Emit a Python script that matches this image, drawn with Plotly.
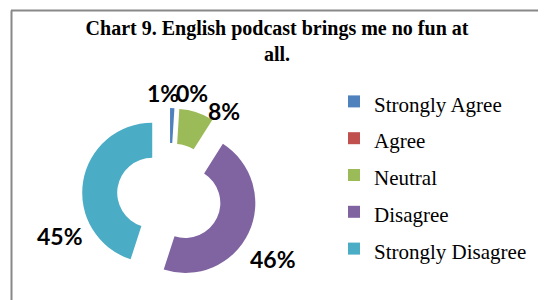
import plotly.graph_objects as go

categories = ["Strongly Agree", "Agree", "Neutral", "Disagree", "Strongly Disagree"]
percentages = [1, 0, 8, 46, 45]
colors = ["#4F81BD", "#C0504D", "#9BBB59", "#8064A2", "#4BACC6"]
title_text = "Chart 9. English podcast brings me no fun at<br>all."

W, H = 546, 300
OX, OY = 8, 8  # page body margin offset


def px(x):
    return (x - OX) / W


def py(y):
    return 1 - (y - OY) / H


# label anchor positions in page pixels (layout only)
label_pos = [(163, 94), (192, 94), (224, 112), (273, 260), (60, 236.5)]

legend_labels = [f'<span style="font-size:21px">{c}</span>' for c in categories]

fig = go.Figure(go.Pie(
    labels=legend_labels,
    values=percentages,
    sort=False,
    direction="clockwise",
    rotation=0,
    hole=0.5,
    pull=[0.25] * len(categories),
    marker=dict(colors=colors, line=dict(width=0)),
    textinfo="none",
    domain=dict(x=[px(82), px(257)], y=[py(283), py(108)]),
    hoverinfo="label+value",
))

annotations = [
    dict(text=f"{v}%", x=px(lx), y=py(ly - 1), xref="paper", yref="paper",
         xanchor="center", yanchor="middle", showarrow=False,
         font=dict(family="Lato", size=23, color="black", weight="bold"))
    for v, (lx, ly) in zip(percentages, label_pos)
]

fig.update_layout(
    width=W, height=H,
    margin=dict(l=0, r=0, t=0, b=0, autoexpand=False),
    paper_bgcolor="white", plot_bgcolor="white",
    title=dict(text=title_text, x=px(277), xanchor="center", y=py(27 + OY), yanchor="top",
               font=dict(family="Liberation Serif", size=20, color="black", weight="bold")),
    showlegend=True,
    legend=dict(x=px(334), xanchor="left", y=py(78), yanchor="top",
                font=dict(family="Liberation Serif", size=26, color="black"),
                bgcolor="rgba(0,0,0,0)"),
    annotations=annotations,
    shapes=[
        dict(type="line", xref="paper", yref="paper", x0=px(11), x1=1, y0=py(10.5), y1=py(10.5),
             line=dict(color="#888888", width=2)),
        dict(type="line", xref="paper", yref="paper", x0=px(11.5), x1=px(11.5), y0=0, y1=py(10.5),
             line=dict(color="#888888", width=2)),
    ],
)

fig.write_html("out.html")
